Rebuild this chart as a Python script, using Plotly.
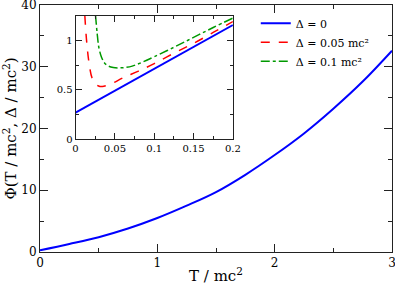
import plotly.graph_objects as go

# main curve, Delta = 0
T_main = [0, 0.25, 0.5, 0.75, 1.0, 1.25, 1.5, 1.75, 2.0, 2.25, 2.5, 2.75, 3.0]
phi_main = [0.27, 1.3, 2.4, 3.8, 5.5, 7.5, 9.7, 12.5, 15.7, 19.2, 23.2, 27.6, 32.6]

# inset curves
T_in0 = [0, 0.05, 0.1, 0.15, 0.2]
phi_in0 = [0.27, 0.49, 0.713, 0.935, 1.155]

T_in1 = [0.0118, 0.014, 0.017, 0.021, 0.026, 0.031, 0.036, 0.045, 0.06, 0.08, 0.1, 0.125, 0.15, 0.175, 0.2]
phi_in1 = [1.25, 1.0, 0.78, 0.62, 0.555, 0.535, 0.537, 0.56, 0.62, 0.69, 0.765, 0.87, 0.97, 1.08, 1.19]

T_in2 = [0.0254, 0.0275, 0.0296, 0.033, 0.037, 0.042, 0.048, 0.054, 0.062, 0.072, 0.085, 0.1, 0.125, 0.15, 0.175, 0.2]
phi_in2 = [1.25, 1.07, 0.93, 0.83, 0.77, 0.74, 0.725, 0.722, 0.725, 0.74, 0.78, 0.835, 0.93, 1.03, 1.13, 1.225]

labels = ["Δ = 0", "Δ = 0.05 mc²", "Δ = 0.1 mc²"]

FONT = "DejaVu Serif"
AXC = "#222222"

fig = go.Figure()
fig.add_trace(go.Scatter(x=T_main, y=phi_main, mode="lines", line=dict(color="#0000ff", width=2, shape="spline"),
                         name=labels[0], xaxis="x", yaxis="y", showlegend=False))
fig.add_trace(go.Scatter(x=T_in0, y=phi_in0, mode="lines", line=dict(color="#0000ff", width=2),
                         name=labels[0], xaxis="x2", yaxis="y2"))
fig.add_trace(go.Scatter(x=T_in1, y=phi_in1, mode="lines", line=dict(color="#ff0000", width=1.5, dash="dash", shape="spline"),
                         name=labels[1], xaxis="x2", yaxis="y2"))
fig.add_trace(go.Scatter(x=T_in2, y=phi_in2, mode="lines", line=dict(color="#009900", width=1.5, dash="dashdot", shape="spline"),
                         name=labels[2], xaxis="x2", yaxis="y2"))

common = dict(showline=True, linecolor=AXC, linewidth=1, mirror="ticks", ticks="inside",
              tickcolor=AXC, showgrid=False, zeroline=False, ticklabeloverflow="allow")

fig.update_layout(
    width=395, height=285,
    margin=dict(l=40, r=3, t=5, b=33, autoexpand=False),
    plot_bgcolor="white", paper_bgcolor="white",
    font=dict(family=FONT, color="black"),
    xaxis=dict(range=[0, 3], domain=[0, 1], dtick=1, ticklen=8,
               minor=dict(dtick=0.5, ticklen=4, ticks="inside", tickcolor=AXC),
               tickfont=dict(size=12), automargin=False,
               title=dict(text="T / mc<sup>2</sup>", font=dict(size=15), standoff=2), **common),
    yaxis=dict(range=[0, 40], domain=[0, 1], dtick=10, ticklen=8,
               minor=dict(dtick=5, ticklen=4, ticks="inside", tickcolor=AXC),
               tickfont=dict(size=12), automargin=False,
               title=dict(text="Φ(T / mc<sup>2</sup>, Δ / mc<sup>2</sup>)", font=dict(size=15), standoff=4), **common),
    xaxis2=dict(range=[0, 0.2], domain=[0.101, 0.548], anchor="y2", dtick=0.05, ticklen=6,
                minor=dict(dtick=0.025, ticklen=3, ticks="inside", tickcolor=AXC),
                tickfont=dict(size=10), **common),
    yaxis2=dict(range=[0, 1.25], domain=[0.456, 0.957], anchor="x2", dtick=0.5, ticklen=6,
                minor=dict(dtick=0.25, ticklen=3, ticks="inside", tickcolor=AXC),
                tickfont=dict(size=10), **common),
    legend=dict(x=0.613, y=0.985, xanchor="left", yanchor="top", bgcolor="rgba(0,0,0,0)",
                font=dict(size=11, family=FONT), tracegroupgap=0),
    shapes=[dict(type="rect", xref="paper", yref="paper", x0=0.101, x1=0.548, y0=0.456, y1=0.957,
                 fillcolor="white", line=dict(width=0), layer="below")],
)

fig.write_html("out.html", config={"displayModeBar": False},
               post_script="document.body.style.margin='0';document.body.style.overflow='hidden';")
